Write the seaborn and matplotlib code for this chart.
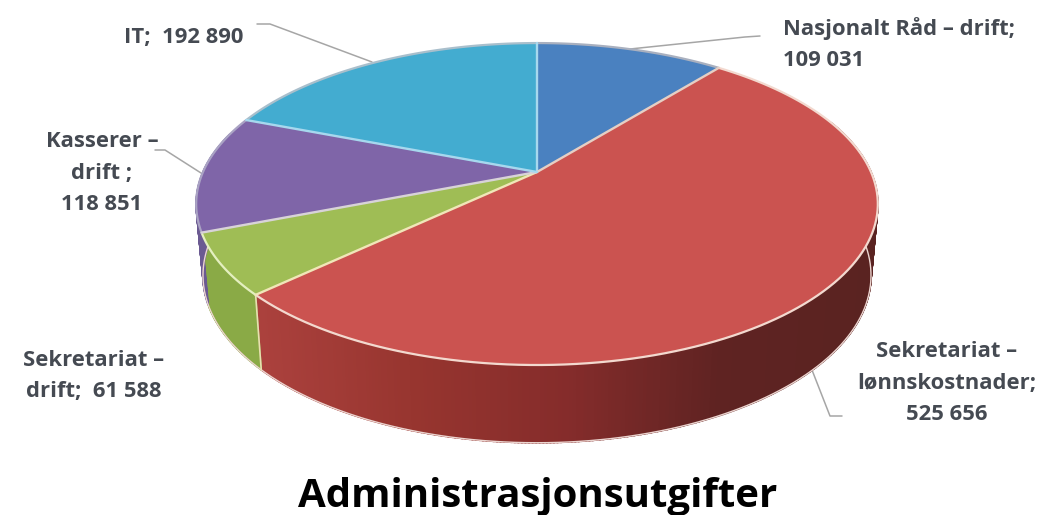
import numpy as np
import matplotlib
matplotlib.use('Agg')
import matplotlib.pyplot as plt
import seaborn as sns

# clockwise from 12 o'clock
categories = ['Nasjonalt Råd – drift', 'Sekretariat – lønnskostnader', 'Sekretariat – drift', 'Kasserer – drift', 'IT']
values = [109031, 525656, 61588, 118851, 192890]
top_colors = ['#4a81c0', '#cb5350', '#9fbd55', '#7f65a8', '#43acd0']
wall_colors = ['#3b6a9e', '#a8403c', '#8aaa46', '#6b5a92', '#368aa8']
rim_colors = ['#a9b0bf', '#f3d9cf', '#e4efc0', '#aaa3c4', '#a9bfcc']

labels = ['Nasjonalt Råd – drift;\n109 031', 'Sekretariat –\nlønnskostnader;\n525 656',
          'Sekretariat –\ndrift;  61 588', 'Kasserer –\ndrift ;\n118 851', 'IT;  192 890']
label_pos = [(783, 44, 'left'), (947, 383, 'center'), (94, 376, 'center'), (102, 173, 'center'), (184, 37, 'center')]
leaders = [[(630, 49), (745, 37), (760, 36)],
           [(812, 370), (830, 416), (842, 416)],
           None,
           [(201, 173), (165, 150), (155, 150)],
           [(372, 62), (270, 24), (257, 24)]]

sns.set_theme(style='white')
plt.rcParams['font.family'] = ['Open Sans', 'DejaVu Sans']

# perspective of the tilted disc, in pixels of the picture
cx, cy = 537, 172
bx, by, k = 334, 154.6, 0.199
depth, low_sx, low_sy = 70, 0.98, 1.04


def project(deg, r=1.0):
    a = np.radians(deg)
    x, y = r * np.sin(a), r * np.cos(a)
    d = 1 + k * y
    return bx * x / d, by * y / d


def top(deg):
    x, y = project(deg)
    return cx + x, cy - y


def low(deg):
    x, y = project(deg)
    return cx + low_sx * x, cy + depth - low_sy * y


fig, ax = plt.subplots(figsize=(10.5, 5.15), dpi=100)
fig.subplots_adjust(0, 0, 1, 1)
ax.set_xlim(0, 1050)
ax.set_ylim(515, 0)
ax.axis('off')

edges = 360 * np.cumsum([0] + values) / sum(values)

# side wall, only the part that faces us
red_wall = sns.blend_palette(['#ab413d', '#97352f', '#852c2b', '#5f2322', '#5a2321'], 200)
for i in range(len(values)):
    start, end = max(edges[i], 70), min(edges[i + 1], 285)
    if end <= start:
        continue
    steps = np.linspace(start, end, max(2, int((end - start) * 2) + 1))
    for a0, a1 in zip(steps[:-1], steps[1:]):
        xt0, yt0 = top(a0)
        xt1, yt1 = top(a1)
        xl0, yl0 = low(a0)
        xl1, yl1 = low(a1)
        if i == 1:
            pos = np.clip((xt0 - 258) / (878 - 258), 0, 0.999)
            col = red_wall[int(pos * 200)]
        else:
            col = wall_colors[i]
        # edge in the same colour closes the seams between the strips
        ax.fill([xt0, xt1, xl1, xl0], [yt0, yt1, yl1, yl0], facecolor=col, edgecolor=col, lw=1.2, zorder=2)
    rim = np.array([low(a) for a in steps])
    ax.plot(rim[:, 0], rim[:, 1], color='#ecd5d0', lw=1, zorder=2.5)

# join between the green and the red wall
xa, ya = top(edges[2])
xb, yb = low(edges[2])
ax.plot([xa, xb], [ya, yb], color='#e8e0b0', lw=1.2, zorder=2.6)

# top of the pie
for i in range(len(values)):
    steps = np.linspace(edges[i], edges[i + 1], 120)
    rim = np.array([top(a) for a in steps])
    ax.fill(np.r_[cx, rim[:, 0]], np.r_[cy, rim[:, 1]], color=top_colors[i], lw=0, zorder=3)
    ax.plot(rim[:, 0], rim[:, 1], color=rim_colors[i], lw=1.6, zorder=4)

line_colors = ['#a7d8ee', '#e6cfc4', '#f0e6b8', '#d8d3d8', '#a7d8ee']
for i in range(len(values)):
    x, y = top(edges[i])
    ax.plot([cx, x], [cy, y], color=line_colors[i], lw=1.7, zorder=4.5)

for pts in leaders:
    if pts is None:
        continue
    ax.plot(*zip(*pts), color='#a6a6a6', lw=1.1, zorder=1)

for text, (x, y, ha) in zip(labels, label_pos):
    ax.text(x, y, text, ha=ha, va='center', fontsize=15.8, fontweight='bold',
            color='#454a52', linespacing=1.65, zorder=6)

ax.text(538, 496, 'Administrasjonsutgifter', ha='center', va='center', fontsize=29,
        fontweight='bold', color='black', zorder=6)

fig.savefig('out.png', dpi=100)
